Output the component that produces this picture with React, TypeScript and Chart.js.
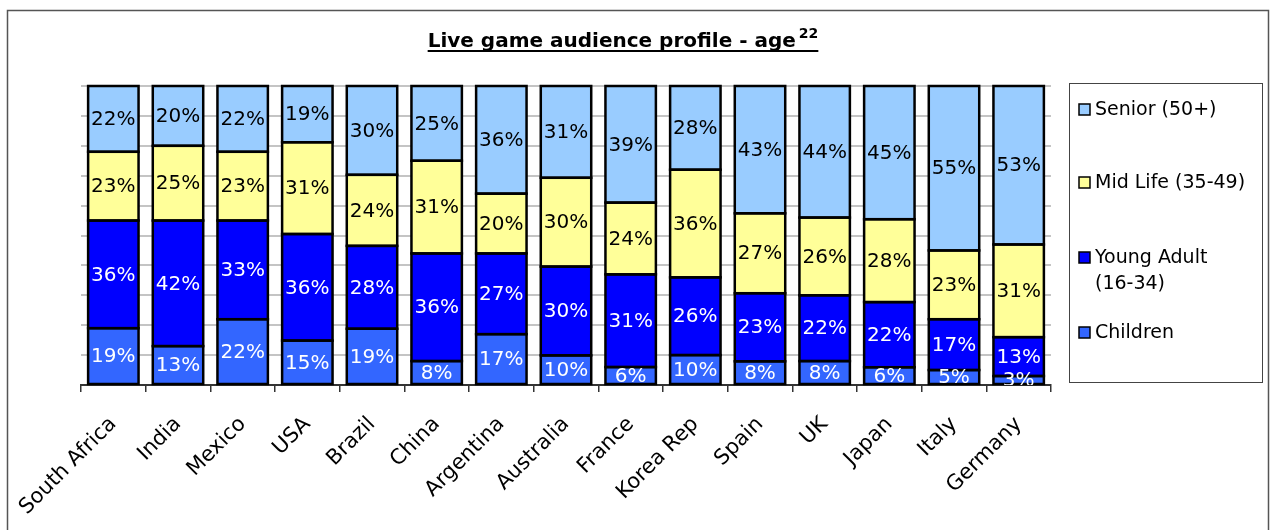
import React, { useEffect, useRef } from "react";
import { Chart, registerables } from "chart.js";

Chart.register(...registerables);

const countries = ["South Africa", "India", "Mexico", "USA", "Brazil", "China", "Argentina", "Australia", "France", "Korea Rep", "Spain", "UK", "Japan", "Italy", "Germany"];
const children = [19, 13, 22, 15, 19, 8, 17, 10, 6, 10, 8, 8, 6, 5, 3];
const youngAdult = [36, 42, 33, 36, 28, 36, 27, 30, 31, 26, 23, 22, 22, 17, 13];
const midLife = [23, 25, 23, 31, 24, 31, 20, 30, 24, 36, 27, 26, 28, 23, 31];
const senior = [22, 20, 22, 19, 30, 25, 36, 31, 39, 28, 43, 44, 45, 55, 53];

const seriesNames = ["Children", "Young Adult (16-34)", "Mid Life (35-49)", "Senior (50+)"];
const seriesColors = ["#3366FF", "#0000FF", "#FFFF99", "#99CCFF"];
const labelColors = ["#FFFFFF", "#FFFFFF", "#000000", "#000000"];
const legendLines = [["Senior (50+)"], ["Mid Life (35-49)"], ["Young Adult", "(16-34)"], ["Children"]];
const legendColors = ["#99CCFF", "#FFFF99", "#0000FF", "#3366FF"];
const titleText = "Live game audience profile - age";
const titleSup = "22";

const FONT = "'DejaVu Sans', 'Noto Sans', sans-serif";

export default function App() {
  const ref = useRef<HTMLCanvasElement | null>(null);

  useEffect(() => {
    const canvas = ref.current;
    if (!canvas) return;
    const raw = [children, youngAdult, midLife, senior];
    const totals = countries.map((_, i) => raw.reduce((s, arr) => s + arr[i], 0));
    const datasets = raw.map((arr, k) => ({
      label: seriesNames[k],
      data: arr.map((v, i) => (v / totals[i]) * 100),
      backgroundColor: seriesColors[k],
      borderWidth: 0,
      categoryPercentage: 1,
      barPercentage: 0.78,
    }));

    const framePlugin = {
      id: "frameTitle",
      afterDraw(chart: any) {
        const ctx = chart.ctx as CanvasRenderingContext2D;
        ctx.save();
        ctx.strokeStyle = "#555555";
        ctx.lineWidth = 1.5;
        ctx.beginPath();
        ctx.moveTo(7.5, 540);
        ctx.lineTo(7.5, 10.5);
        ctx.lineTo(1268.5, 10.5);
        ctx.lineTo(1268.5, 540);
        ctx.stroke();
        ctx.fillStyle = "#000";
        ctx.font = `bold 20px ${FONT}`;
        const wMain = ctx.measureText(titleText).width + 3;
        ctx.font = `bold 14px ${FONT}`;
        const wSup = ctx.measureText(titleSup).width;
        const total = wMain + wSup;
        const x0 = 623 - total / 2;
        const base = 47;
        ctx.textBaseline = "alphabetic";
        ctx.textAlign = "left";
        ctx.font = `bold 20px ${FONT}`;
        ctx.fillText(titleText, x0, base);
        ctx.font = `bold 14px ${FONT}`;
        ctx.fillText(titleSup, x0 + wMain, base - 9);
        ctx.fillRect(x0, base + 3, total, 2);
        ctx.restore();
      },
    };

    const segPlugin = {
      id: "segBordersLabels",
      afterDatasetsDraw(chart: any) {
        const ctx = chart.ctx as CanvasRenderingContext2D;
        const area = chart.chartArea;
        ctx.save();
        ctx.strokeStyle = "#000";
        ctx.lineWidth = 2.5;
        raw.forEach((_, k) => {
          const meta = chart.getDatasetMeta(k);
          meta.data.forEach((el: any) => {
            const x = el.x - el.width / 2;
            const top = Math.min(el.y, el.base);
            const h = Math.abs(el.base - el.y);
            ctx.strokeRect(x, top, el.width, h);
          });
        });
        ctx.beginPath();
        ctx.rect(area.left, area.top, area.right - area.left, area.bottom - area.top);
        ctx.clip();
        ctx.font = `20px ${FONT}`;
        ctx.textAlign = "center";
        ctx.textBaseline = "middle";
        raw.forEach((arr, k) => {
          const meta = chart.getDatasetMeta(k);
          ctx.fillStyle = labelColors[k];
          meta.data.forEach((el: any, i: number) => {
            const cy = (el.y + el.base) / 2;
            ctx.fillText(arr[i] + "%", el.x, cy + 1);
          });
        });
        ctx.restore();
      },
    };

    const legendPlugin = {
      id: "boxLegend",
      afterDraw(chart: any) {
        const ctx = chart.ctx as CanvasRenderingContext2D;
        ctx.save();
        ctx.strokeStyle = "#444";
        ctx.lineWidth = 1;
        ctx.strokeRect(1069.5, 83.5, 193, 299);
        const ys = [109, 182, 257, 332];
        ctx.font = `19px ${FONT}`;
        ctx.textBaseline = "middle";
        ctx.textAlign = "left";
        legendLines.forEach((lines, k) => {
          const y = ys[k];
          ctx.fillStyle = legendColors[k];
          ctx.fillRect(1079, y - 5, 11, 11);
          ctx.strokeStyle = "#000";
          ctx.lineWidth = 1.5;
          ctx.strokeRect(1079, y - 5, 11, 11);
          ctx.fillStyle = "#000";
          lines.forEach((t, j) => ctx.fillText(t, 1095, y + 1 + j * 26));
        });
        ctx.restore();
      },
    };

    const chart = new Chart(canvas, {
      type: "bar",
      data: { labels: countries, datasets },
      options: {
        responsive: false,
        animation: false,
        layout: { padding: { top: 86, left: 81, right: 220, bottom: 0 } },
        plugins: {
          legend: { display: false },
          title: { display: false },
          tooltip: { enabled: false },
        },
        scales: {
          x: {
            stacked: true,
            afterFit: (scale: any) => {
              scale.height = 145;
            },
            grid: {
              display: true,
              drawOnChartArea: false,
              drawTicks: true,
              offset: true,
              tickLength: 7,
              color: "#333",
              lineWidth: 1.5,
            },
            border: { display: true, color: "#333", width: 2 },
            ticks: {
              color: "#000",
              font: { family: FONT, size: 21 },
              minRotation: 45,
              maxRotation: 45,
              padding: 20,
              autoSkip: false,
            },
          },
          y: {
            stacked: true,
            min: 0,
            max: 100,
            afterFit: (scale: any) => {
              scale.width = 0;
            },
            ticks: { display: false, stepSize: 10 },
            border: { display: false },
            grid: { color: "#c4c4c4", lineWidth: 2, drawTicks: false },
          },
        },
      },
      plugins: [framePlugin, segPlugin, legendPlugin],
    });
    return () => chart.destroy();
  }, []);

  return (
    <div style={{ position: "absolute", left: 0, top: 0, width: 1271, height: 530 }}>
      <canvas ref={ref} width={1271} height={530} style={{ display: "block" }} />
    </div>
  );
}
